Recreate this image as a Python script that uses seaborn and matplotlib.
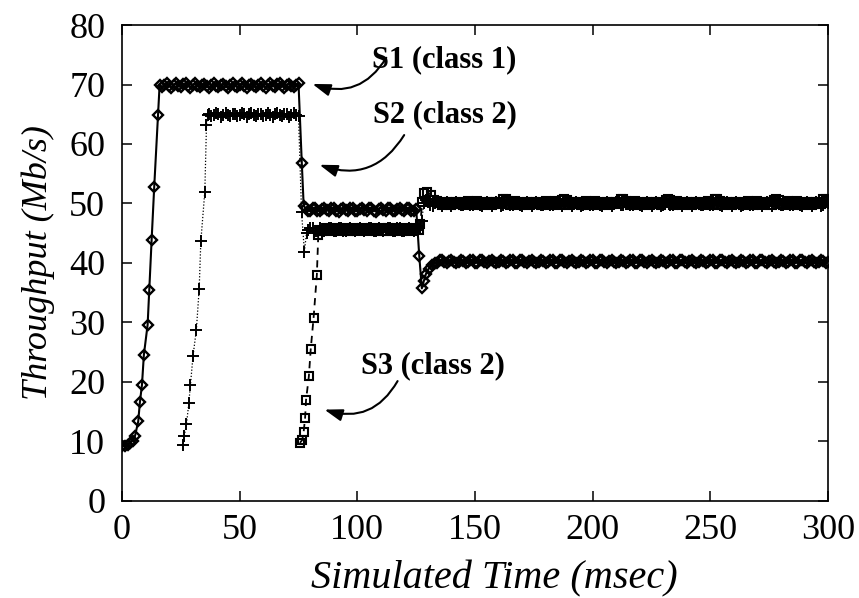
import numpy as np
import pandas as pd
import matplotlib
matplotlib.use("Agg")
import matplotlib.pyplot as plt
import seaborn as sns

# --- S1 (class 1): diamonds, solid line ---
s1_rise_t = [0.0, 1.3, 2.4, 3.4, 4.5, 5.5, 6.9, 7.6, 8.5, 9.3, 10.9, 11.6, 12.6, 13.7, 15.3]
s1_rise = [9.1, 9.2, 9.4, 9.7, 10.1, 10.8, 13.3, 16.5, 19.5, 24.5, 29.6, 35.5, 43.9, 52.8, 64.9]
# steady at ~70, t = 16..75 ms
s1_high = [70.0, 69.6, 69.9, 70.2, 69.7, 69.5, 70.0, 70.2, 69.7, 69.6, 70.1, 70.2, 69.8, 69.5, 69.9, 70.2, 69.8, 69.6, 70.0, 70.1,
           69.7, 69.5, 69.9, 70.2, 69.8, 69.6, 70.0, 70.1, 69.7, 69.5, 70.0, 70.2, 69.8, 69.6, 69.9, 70.2, 69.7, 69.5, 70.0, 70.1,
           69.8, 69.6, 69.9, 70.2, 69.7, 69.5, 70.0, 70.2, 69.8, 69.6, 70.1, 70.2, 69.7, 69.5, 69.9, 70.1, 69.8, 69.6, 70.0, 70.2]
s1_drop_t = [76.4, 77.2]
s1_drop = [56.8, 49.6]
# steady at ~49, t = 78..125 ms
s1_mid = [49.2, 48.8, 48.7, 49.2, 49.3, 48.8, 48.7, 49.1, 49.3, 48.9, 48.7, 49.2, 49.3, 48.8, 48.6, 49.1, 49.3, 48.9, 48.7, 49.2,
          49.3, 48.8, 48.7, 49.1, 49.3, 48.9, 48.7, 49.2, 49.3, 48.8, 48.6, 49.1, 49.3, 48.9, 48.7, 49.2, 49.3, 48.8, 48.7, 49.1,
          49.3, 48.9, 48.7, 49.2, 49.3, 48.8, 48.7, 49.1]
s1_dip_t = [126.3, 127.4, 128.3, 129.2, 130.3, 131.6, 133.0]
s1_dip = [41.2, 35.7, 37.0, 38.2, 39.0, 39.6, 40.0]
# steady at ~40, t = 134..300 ms
s1_low = [40.0, 40.4, 40.5, 40.1, 39.9, 40.3, 40.5, 40.2, 39.9, 40.2, 40.5, 40.3, 39.9, 40.1, 40.5, 40.4, 40.0, 40.0, 40.4, 40.5,
          40.1, 39.9, 40.3, 40.5, 40.2, 39.9, 40.2, 40.5, 40.3, 40.0, 40.1, 40.4, 40.4, 40.0, 40.0, 40.4, 40.5, 40.1, 39.9, 40.3,
          40.5, 40.2, 39.9, 40.2, 40.5, 40.3, 39.9, 40.1, 40.5, 40.4, 40.0, 40.0, 40.4, 40.5, 40.1, 39.9, 40.3, 40.5, 40.2, 39.9,
          40.2, 40.5, 40.3, 40.0, 40.1, 40.4, 40.4, 40.0, 40.0, 40.4, 40.5, 40.1, 39.9, 40.3, 40.5, 40.2, 39.9, 40.2, 40.5, 40.3,
          39.9, 40.1, 40.5, 40.4, 40.0, 40.0, 40.4, 40.5, 40.1, 39.9, 40.3, 40.5, 40.2, 39.9, 40.2, 40.5, 40.3, 40.0, 40.1, 40.4,
          40.4, 40.0, 40.0, 40.4, 40.5, 40.1, 39.9, 40.3, 40.5, 40.2, 39.9, 40.2, 40.5, 40.3, 39.9, 40.1, 40.5, 40.4, 40.0, 40.0,
          40.4, 40.5, 40.1, 39.9, 40.3, 40.5, 40.2, 39.9, 40.2, 40.5, 40.3, 40.0, 40.1, 40.4, 40.4, 40.0, 40.0, 40.4, 40.5, 40.1,
          39.9, 40.3, 40.5, 40.2, 39.9, 40.2, 40.5, 40.3, 39.9, 40.1, 40.5, 40.4, 40.0, 40.0, 40.4, 40.5, 40.1, 39.9, 40.3, 40.5,
          40.2, 39.9, 40.2, 40.5, 40.3, 40.0, 40.2]

# --- S2 (class 2): plus signs, dotted line ---
s2_rise_t = [26.0, 26.4, 27.4, 28.4, 29.1, 30.2, 31.6, 32.8, 33.5, 35.2, 35.9, 36.5]
s2_rise = [9.3, 10.8, 12.8, 16.4, 19.5, 24.4, 28.7, 35.6, 43.6, 52.0, 63.2, 64.9]
# steady at ~65, t = 37..75 ms
s2_high = [65.1, 64.7, 64.8, 65.2, 65.0, 64.6, 64.9, 65.2, 64.8, 64.7, 65.1, 65.1, 64.7, 64.8, 65.2, 65.0, 64.6, 65.0, 65.2, 64.8,
           64.7, 65.1, 65.1, 64.7, 64.8, 65.2, 64.9, 64.6, 65.0, 65.2, 64.8, 64.7, 65.1, 65.0, 64.6, 64.9, 65.2, 64.9, 64.7]
s2_drop_t = [76.3, 77.5, 78.4]
s2_drop = [48.5, 41.9, 45.0]
# steady at ~45.6, t = 79..126 ms
s2_mid = [45.5, 45.9, 45.8, 45.3, 45.4, 45.9, 45.7, 45.3, 45.5, 45.9, 45.8, 45.3, 45.4, 45.8, 45.9, 45.4, 45.3, 45.7, 45.9, 45.5,
          45.3, 45.6, 45.9, 45.6, 45.3, 45.5, 45.9, 45.8, 45.3, 45.4, 45.9, 45.7, 45.3, 45.5, 45.9, 45.8, 45.4, 45.4, 45.8, 45.9,
          45.4, 45.3, 45.7, 45.9, 45.5, 45.3, 45.6, 45.9]
s2_up_t = [127.3, 128.3, 129.2]
s2_up = [47.0, 50.0, 50.6]
# steady at ~50, t = 130..300 ms
s2_low = [50.2, 49.8, 49.6, 50.1, 50.3, 49.9, 49.6, 50.0, 50.3, 50.0, 49.6, 49.9, 50.3, 50.1, 49.7, 49.8, 50.2, 50.2, 49.7, 49.7,
          50.1, 50.3, 49.8, 49.6, 50.0, 50.3, 49.9, 49.6, 49.9, 50.3, 50.1, 49.6, 49.8, 50.2, 50.2, 49.7, 49.7, 50.1, 50.3, 49.8,
          49.6, 50.0, 50.3, 50.0, 49.6, 49.9, 50.3, 50.1, 49.7, 49.8, 50.2, 50.2, 49.7, 49.7, 50.1, 50.3, 49.9, 49.6, 50.0, 50.3,
          49.9, 49.6, 49.9, 50.3, 50.1, 49.6, 49.8, 50.2, 50.2, 49.7, 49.7, 50.1, 50.3, 49.8, 49.6, 50.0, 50.3, 50.0, 49.6, 49.9,
          50.3, 50.1, 49.7, 49.8, 50.2, 50.2, 49.7, 49.7, 50.1, 50.3, 49.8, 49.6, 50.0, 50.3, 49.9, 49.6, 49.9, 50.3, 50.1, 49.6,
          49.8, 50.2, 50.2, 49.7, 49.7, 50.1, 50.3, 49.9, 49.6, 50.0, 50.3, 50.0, 49.6, 49.9, 50.3, 50.1, 49.7, 49.8, 50.2, 50.2,
          49.7, 49.7, 50.1, 50.3, 49.8, 49.6, 50.0, 50.3, 49.9, 49.6, 49.9, 50.3, 50.1, 49.6, 49.8, 50.2, 50.2, 49.7, 49.7, 50.1,
          50.3, 49.9, 49.6, 50.0, 50.3, 50.0, 49.6, 49.9, 50.3, 50.1, 49.7, 49.8, 50.2, 50.2, 49.7, 49.7, 50.1, 50.3, 49.8, 49.6,
          50.0, 50.3, 49.9, 49.6, 49.9, 50.3, 50.1, 49.6, 49.8, 50.2, 50.1]

# --- S3 (class 2): squares, dashed line ---
s3_rise_t = [75.6, 76.6, 77.2, 77.8, 78.2, 79.4, 80.2, 81.4, 82.8, 83.4]
s3_rise = [9.7, 10.2, 11.6, 13.9, 16.9, 20.9, 25.5, 30.7, 38.0, 44.7]
# steady at ~45.5, t = 84..126 ms
s3_mid = [45.6, 45.3, 45.5, 45.9, 45.6, 45.3, 45.6, 45.9, 45.5, 45.3, 45.7, 45.8, 45.4, 45.4, 45.8, 45.7, 45.3, 45.5, 45.9, 45.6,
          45.3, 45.6, 45.9, 45.5, 45.3, 45.7, 45.8, 45.4, 45.4, 45.8, 45.7, 45.3, 45.5, 45.9, 45.6, 45.3, 45.6, 45.9, 45.5, 45.3,
          45.7, 45.8, 45.5]
s3_up_t = [126.8, 127.5, 128.5, 129.8, 131.2, 132.6]
s3_up = [46.5, 50.3, 51.8, 52.0, 51.4, 50.6]
# steady at ~50, t = 134..300 ms
s3_low = [50.4, 50.1, 49.8, 49.9, 50.3, 50.2, 49.8, 49.9, 50.2, 50.3, 49.9, 49.8, 50.1, 50.4, 50.0, 49.8, 50.0, 50.4, 50.1, 49.8,
          49.9, 50.3, 50.2, 49.8, 49.9, 50.2, 50.3, 49.9, 50.7, 50.8, 50.4, 49.8, 50.0, 50.4, 50.1, 49.8, 49.9, 50.3, 50.2, 49.8,
          49.9, 50.2, 50.3, 49.9, 49.8, 50.1, 50.4, 50.0, 49.8, 50.0, 50.4, 50.1, 49.8, 50.6, 50.8, 50.5, 49.8, 49.9, 50.2, 50.3,
          49.9, 49.8, 50.1, 50.4, 50.0, 49.8, 50.0, 50.4, 50.1, 49.8, 49.9, 50.3, 50.2, 49.8, 49.9, 50.2, 50.3, 49.9, 50.7, 50.8,
          50.4, 50.0, 49.8, 50.0, 50.4, 50.1, 49.8, 49.9, 50.3, 50.2, 49.8, 49.9, 50.2, 50.3, 49.9, 49.8, 50.1, 50.6, 50.8, 50.5,
          49.8, 50.0, 50.4, 50.1, 49.8, 49.9, 50.3, 50.2, 49.8, 49.9, 50.2, 50.3, 49.9, 49.8, 50.1, 50.4, 50.0, 49.8, 50.7, 50.8,
          50.4, 49.8, 49.9, 50.3, 50.2, 49.8, 49.9, 50.2, 50.3, 49.9, 49.8, 50.1, 50.4, 50.0, 49.8, 50.0, 50.4, 50.1, 49.8, 49.9,
          50.3, 50.2, 49.8, 50.6, 50.8, 50.5, 49.9, 49.8, 50.1, 50.4, 50.0, 49.8, 50.0, 50.4, 50.1, 49.8, 49.9, 50.3, 50.2, 49.8,
          49.9, 50.2, 50.3, 49.9, 50.7, 50.8, 50.4]

x_ticks = [0, 50, 100, 150, 200, 250, 300]
y_ticks = [0, 10, 20, 30, 40, 50, 60, 70, 80]


def grid(start, vals):
    # 1 ms sampling times for a steady-state segment
    return list(start + np.arange(len(vals)))


s1_t = s1_rise_t + grid(16, s1_high) + s1_drop_t + grid(78, s1_mid) + s1_dip_t + grid(134, s1_low)
s1_y = s1_rise + s1_high + s1_drop + s1_mid + s1_dip + s1_low
s2_t = s2_rise_t + grid(37, s2_high) + s2_drop_t + grid(79, s2_mid) + s2_up_t + grid(130, s2_low)
s2_y = s2_rise + s2_high + s2_drop + s2_mid + s2_up + s2_low
s3_t = s3_rise_t + grid(84, s3_mid) + s3_up_t + grid(134, s3_low)
s3_y = s3_rise + s3_mid + s3_up + s3_low

sns.set_theme(style="ticks")
plt.rcParams["font.family"] = ["Liberation Serif", "DejaVu Serif"]
for key in ["text.color", "axes.labelcolor", "xtick.color", "ytick.color", "axes.edgecolor"]:
    plt.rcParams[key] = "black"

fig = plt.figure(figsize=(8.59, 5.98), dpi=100)
ax = fig.add_axes([0.142, 0.163, 0.822, 0.795])

# hollow markers: overlapping edges build up the dark bands of the steady state
common = dict(ax=ax, color="black", estimator=None, sort=False, legend=False)
sns.lineplot(x=s3_t, y=s3_y, linestyle=(0, (4, 3)), linewidth=1.3, marker="s", markersize=5.5,
             markerfacecolor="none", markeredgecolor="black", markeredgewidth=1.5, **common)
sns.lineplot(x=s2_t, y=s2_y, linestyle=(0, (1, 1.5)), linewidth=0.9, marker="+", markersize=8,
             markeredgecolor="black", markeredgewidth=1.4, **common)
sns.lineplot(x=s1_t, y=s1_y, linestyle="-", linewidth=1.5, marker="D", markersize=5.5,
             markerfacecolor="none", markeredgecolor="black", markeredgewidth=1.7, **common)

ax.set_xlim(0, 300)
ax.set_ylim(0, 80)
ax.set_xticks(x_ticks)
ax.set_yticks(y_ticks)
ax.tick_params(direction="in", top=True, right=True, length=7, width=1.1,
               labelsize=26, colors="black")
ax.tick_params(axis="y", pad=12)
ax.tick_params(axis="x", pad=10)
for sp in ax.spines.values():
    sp.set_linewidth(1.2)

ax.set_xlabel("Simulated Time (msec)", fontsize=29, style="italic")
ax.xaxis.set_label_coords(0.528, -0.125)
ax.set_ylabel("Throughput (Mb/s)", fontsize=26, style="italic", labelpad=10)

# curved arrow call-outs
arrow = dict(arrowstyle="-|>,head_length=0.9,head_width=0.3", color="black", lw=1.5,
             shrinkA=0, shrinkB=0)
labels = [("S1 (class 1)", (136.9, 74.1), (112.3, 74.5), (80.9, 70.1)),
          ("S2 (class 2)", (137.3, 64.9), (119.9, 61.5), (83.9, 56.5)),
          ("S3 (class 2)", (132.2, 22.7), (117.1, 20.1), (86.0, 15.3))]
for txt, pos, tail, head in labels:
    ax.text(pos[0], pos[1], txt, fontsize=22, fontweight="bold", ha="center", va="center")
    ax.annotate("", xy=head, xytext=tail,
                arrowprops=dict(connectionstyle="arc3,rad=-0.4", **arrow))

fig.savefig("out.png", dpi=100)
